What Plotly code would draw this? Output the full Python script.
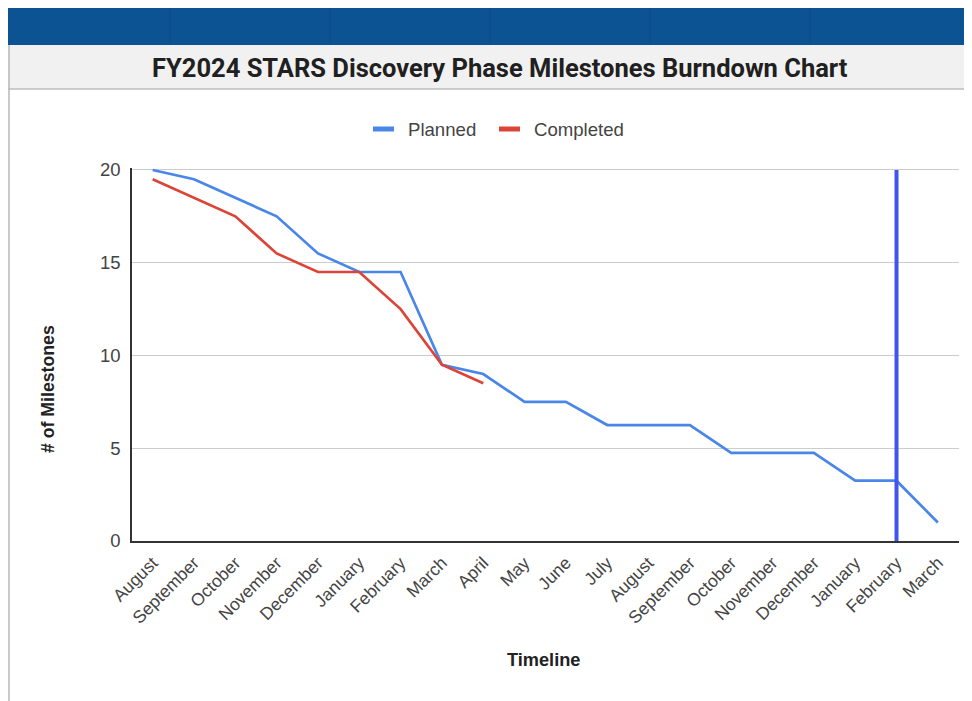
import plotly.graph_objects as go

# ---- data ----
months = ["August", "September", "October", "November", "December", "January",
          "February", "March", "April", "May", "June", "July", "August",
          "September", "October", "November", "December", "January",
          "February", "March"]
planned = [20, 19.5, 18.5, 17.5, 15.5, 14.5, 14.5, 9.5, 9.0, 7.5, 7.5, 6.25,
           6.25, 6.25, 4.75, 4.75, 4.75, 3.25, 3.25, 1.0]
completed = [19.5, 18.5, 17.5, 15.5, 14.5, 14.5, 12.5, 9.5, 8.5]
series_names = ["Planned", "Completed"]
series_colors = ["#4a86e8", "#dc4437"]
today_index = 18  # current month marker (February)
title_text = "FY2024 STARS Discovery Phase Milestones Burndown Chart"
y_title = "# of Milestones"
x_title = "Timeline"

# the page body has an 8px margin; the figure fills the rest of the window
OFF = 8
W, H = 972 - OFF, 701 - OFF


def px(x):
    return (x - OFF) / W


def py(y):
    return 1 - (y - OFF) / H


x_idx = list(range(len(months)))

fig = go.Figure()
fig.add_trace(go.Scatter(x=x_idx, y=planned, mode="lines", name=series_names[0],
                         line=dict(color=series_colors[0], width=2.7),
                         showlegend=False, hoverinfo="x+y"))
fig.add_trace(go.Scatter(x=x_idx[:len(completed)], y=completed, mode="lines",
                         name=series_names[1],
                         line=dict(color=series_colors[1], width=2.7),
                         showlegend=False, hoverinfo="x+y"))

shapes = []
# blue header bar
shapes.append(dict(type="rect", xref="paper", yref="paper",
                   x0=0, x1=1, y0=py(45), y1=1,
                   fillcolor="#0c5394", line=dict(width=0), layer="below"))
for sx in [170, 330, 490, 650, 810]:
    shapes.append(dict(type="line", xref="paper", yref="paper",
                       x0=px(sx), x1=px(sx), y0=py(45), y1=1,
                       line=dict(color="#0a4c8a", width=1), layer="below"))
# title bar
shapes.append(dict(type="rect", xref="paper", yref="paper",
                   x0=px(8), x1=1, y0=py(89), y1=py(45),
                   fillcolor="#f1f1f1", line=dict(width=0), layer="below"))
shapes.append(dict(type="line", xref="paper", yref="paper",
                   x0=px(8), x1=1, y0=py(89), y1=py(89),
                   line=dict(color="#bdbdbd", width=1.5), layer="below"))
# left border
shapes.append(dict(type="line", xref="paper", yref="paper",
                   x0=px(9), x1=px(9), y0=0, y1=py(45),
                   line=dict(color="#b8b8b8", width=1.5), layer="below"))
# current month marker
shapes.append(dict(type="line", xref="x", yref="y",
                   x0=today_index, x1=today_index, y0=-0.25, y1=20,
                   line=dict(color="#3f55ee", width=4), layer="above"))
# custom legend samples
legend_items = [(373, 394, 406), (499, 520, 532)]
annotations = []
for (lx0, lx1, tx), name, col in zip(legend_items, series_names, series_colors):
    shapes.append(dict(type="line", xref="paper", yref="paper",
                       x0=px(lx0), x1=px(lx1), y0=py(129), y1=py(129),
                       line=dict(color=col, width=5)))
    annotations.append(dict(text=name, xref="paper", yref="paper",
                            x=px(tx), y=py(129), xanchor="left", yanchor="middle",
                            showarrow=False,
                            font=dict(size=18.6, color="#444444",
                                      family="Liberation Sans, Arial")))

annotations.append(dict(text="<b>" + title_text + "</b>", xref="paper", yref="paper",
                        x=px(500), y=py(68), xanchor="center", yanchor="middle",
                        showarrow=False,
                        font=dict(size=25.5, color="#202020", family="Roboto")))
annotations.append(dict(text="<b>" + y_title + "</b>", xref="paper", yref="paper",
                        x=px(48), y=py(389), xanchor="center", yanchor="middle",
                        textangle=-90, showarrow=False,
                        font=dict(size=17.7, color="#222222",
                                  family="Liberation Sans, Arial")))
annotations.append(dict(text="<b>" + x_title + "</b>", xref="paper", yref="paper",
                        x=px(543), y=py(660), xanchor="center", yanchor="middle",
                        showarrow=False,
                        font=dict(size=18.2, color="#222222",
                                  family="Liberation Sans, Arial")))

fig.update_layout(
    width=W, height=H,
    margin=dict(l=0, r=0, t=0, b=0, pad=0, autoexpand=False),
    paper_bgcolor="white", plot_bgcolor="white",
    showlegend=False,
    shapes=shapes,
    annotations=annotations,
    xaxis=dict(domain=[px(132), px(958.5)], range=[-0.5, len(months) - 0.5],
               tickmode="array", tickvals=x_idx, ticktext=months,
               tickangle=-45, showgrid=False, zeroline=False, automargin=False,
               showline=True, linecolor="#333333", linewidth=1.5,
               ticks="", ticklabelstandoff=3,
               tickfont=dict(size=17.5, color="#444444",
                             family="Liberation Sans, Arial")),
    yaxis=dict(domain=[py(541), py(168.1)], range=[0, 20.1],
               tickmode="array", tickvals=[0, 5, 10, 15, 20],
               showgrid=True, gridcolor="#cccccc", gridwidth=1, automargin=False,
               zeroline=False, showline=True, linecolor="#333333", linewidth=1.5,
               ticks="", ticklabelstandoff=6,
               tickfont=dict(size=18.5, color="#444444",
                             family="Liberation Sans, Arial")),
)

fig.write_html("out.html")
